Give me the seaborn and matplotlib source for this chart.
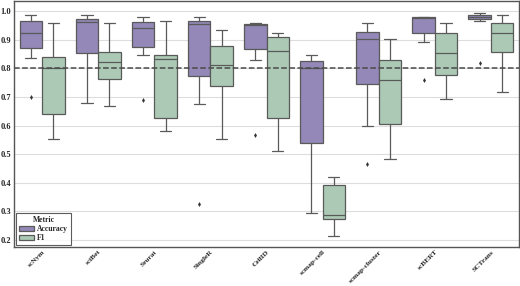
import matplotlib
import numpy as np
import pandas as pd
import seaborn as sns
import matplotlib.pyplot as plt
import matplotlib.transforms as mtransforms

methods = ["scNym", "sciBet", "Seurat", "SingleR", "CellID",
           "scmap-cell", "scmap-cluster", "scBERT", "SCTrans"]

# five-number summaries: whisker low, q1, median, q3, whisker high
acc_lo = [0.835, 0.680, 0.846, 0.674, 0.830, 0.293, 0.600, 0.893, 0.966]
acc_q1 = [0.872, 0.852, 0.874, 0.773, 0.866, 0.538, 0.746, 0.925, 0.971]
acc_med = [0.925, 0.963, 0.942, 0.954, 0.952, 0.800, 0.901, 0.977, 0.980]
acc_q3 = [0.967, 0.974, 0.962, 0.966, 0.954, 0.825, 0.927, 0.978, 0.986]
acc_hi = [0.985, 0.985, 0.980, 0.978, 0.959, 0.845, 0.957, 0.980, 0.994]

f1_lo = [0.552, 0.668, 0.582, 0.552, 0.511, 0.214, 0.483, 0.693, 0.718]
f1_q1 = [0.639, 0.762, 0.626, 0.738, 0.625, 0.274, 0.606, 0.776, 0.856]
f1_med = [0.802, 0.821, 0.833, 0.810, 0.859, 0.287, 0.759, 0.852, 0.922]
f1_q3 = [0.840, 0.856, 0.846, 0.878, 0.908, 0.391, 0.828, 0.924, 0.957]
f1_hi = [0.957, 0.957, 0.966, 0.934, 0.925, 0.421, 0.901, 0.959, 0.985]

# outliers (method, metric, value)
out_method = ["scNym", "Seurat", "SingleR", "CellID", "scmap-cluster", "scBERT", "SCTrans"]
out_metric = ["Accuracy"] * 7
out_value = [0.700, 0.689, 0.327, 0.567, 0.464, 0.760, 0.819]

rows = []
for i, m in enumerate(methods):
    for v in [acc_lo[i], acc_q1[i], acc_med[i], acc_q3[i], acc_hi[i]]:
        rows.append((m, "Accuracy", v))
    for v in [f1_lo[i], f1_q1[i], f1_med[i], f1_q3[i], f1_hi[i]]:
        rows.append((m, "F1", v))
df = pd.DataFrame(rows, columns=["Method", "Metric", "Value"])
outs = pd.DataFrame({"Method": out_method, "Metric": out_metric, "Value": out_value})

sns.set_style("whitegrid")
plt.rcParams['font.family'] = ['Liberation Serif', 'DejaVu Serif']
plt.rcParams['font.weight'] = 'bold'

palette = {"Accuracy": "#8f80bf", "F1": "#a6ceb2"}

fig = plt.figure(figsize=(5.2, 2.86), dpi=100)
ax = fig.add_axes([0.027, 0.136, 0.971, 0.86])

sns.boxplot(data=df, x="Method", y="Value", hue="Metric", order=methods,
            hue_order=["Accuracy", "F1"], palette=palette, width=0.8,
            linecolor="#5a5a5a", linewidth=0.9, whis=1.5, ax=ax)
sns.stripplot(data=outs, x="Method", y="Value", hue="Metric", order=methods,
              hue_order=["Accuracy", "F1"], dodge=True, jitter=False,
              palette={"Accuracy": "#333333", "F1": "#333333"},
              marker="d", size=2.5, legend=False, ax=ax)

ax.axhline(0.8, color="#4a4a4a", ls="--", lw=1.1, zorder=5)

ax.set_ylim(0.175, 1.035)
ax.set_xlim(-0.5, 8.5)
ax.set_yticks(np.arange(0.2, 1.01, 0.1))
ax.set_yticklabels([f"{t:.1f}" for t in np.arange(0.2, 1.01, 0.1)],
                   fontsize=6, fontweight="bold")
ax.set_xticks(range(len(methods)))
ax.set_xticklabels(methods, rotation=45, ha="right", rotation_mode="anchor",
                   fontsize=5.3, fontweight="bold")
shift = mtransforms.ScaledTranslation(6 / 100, 0, fig.dpi_scale_trans)
for lab in ax.get_xticklabels():
    lab.set_transform(lab.get_transform() + shift)
ax.tick_params(axis="both", length=0, pad=2)
ax.tick_params(axis="x", pad=1.5)
ax.xaxis.grid(False)
ax.yaxis.grid(True, color="#dddddd", lw=0.8)
ax.set_xlabel("")
ax.set_ylabel("")
for s in ax.spines.values():
    s.set_color("#555555")
    s.set_linewidth(1.0)

leg = ax.legend(title="Metric", loc="lower left", fontsize=5.5, title_fontsize=5.5,
                frameon=True, borderpad=0.35, handlelength=2.0, handleheight=0.7,
                labelspacing=0.15, handletextpad=0.4, borderaxespad=0.3,
                fancybox=False)
leg.get_frame().set_edgecolor("#333333")
leg.get_frame().set_linewidth(0.8)
leg.get_title().set_fontweight("bold")
for t in leg.get_texts():
    t.set_fontweight("bold")

fig.savefig("out.png", dpi=100)
